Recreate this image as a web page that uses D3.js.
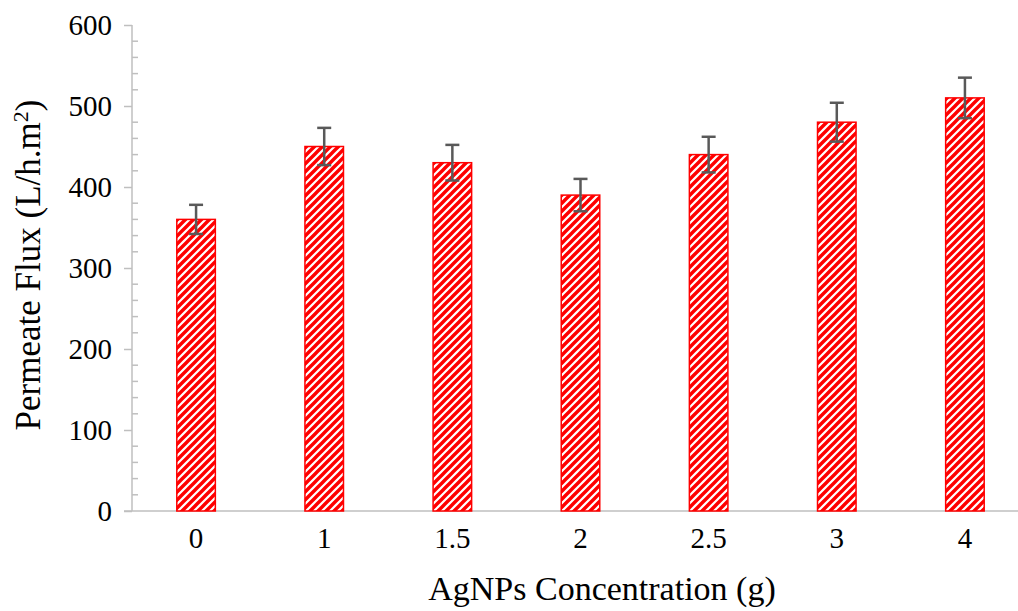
<!DOCTYPE html>
<html>
<head>
<meta charset="utf-8">
<script src="https://cdn.jsdelivr.net/npm/d3@7"></script>
<style>
  body { margin: 0; background: #fff; }
  svg text { font-family: "Liberation Serif", "Times New Roman", serif; fill: #000; }
</style>
</head>
<body>
<div id="chart"></div>
<script>
// data
var categories = ["0", "1", "1.5", "2", "2.5", "3", "4"];
var flux = [360, 450, 430, 390, 440, 480, 510];
var fluxErr = [18, 23, 22, 20, 22, 24, 25];
var yTicks = [0, 100, 200, 300, 400, 500, 600];

var W = 1018, H = 611;
var margin = {top: 25, right: -11, bottom: 100, left: 132},
    width = W - margin.left - margin.right,
    height = H - margin.top - margin.bottom;

var svg = d3.select("#chart").append("svg")
    .attr("width", W)
    .attr("height", H);

// hatch pattern (wide upward diagonal)
var defs = svg.append("defs");
var pat = defs.append("pattern")
    .attr("id", "hatch")
    .attr("patternUnits", "userSpaceOnUse")
    .attr("width", 8)
    .attr("height", 8);
pat.append("rect").attr("width", 8).attr("height", 8).attr("fill", "#fff");
pat.append("path")
    .attr("d", "M-2,2 L2,-2 M0,8 L8,0 M6,10 L10,6")
    .attr("stroke", "#ff0000")
    .attr("stroke-width", 3.4);

var g = svg.append("g")
    .attr("transform", "translate(" + margin.left + "," + margin.top + ")");

var x = d3.scaleBand()
    .domain(categories)
    .range([0, width])
    .paddingInner(0.6875)
    .paddingOuter(0.34375);

var y = d3.scaleLinear()
    .domain([0, 600])
    .range([height, 0]);

// y axis: major ticks outside, minor ticks inside
var yAxis = g.append("g")
    .call(d3.axisLeft(y).tickValues(yTicks).tickSize(8).tickPadding(12));
yAxis.select(".domain").attr("stroke", "#bfbfbf").attr("stroke-width", 1.5)
    .attr("d", "M0," + height + "V0");
yAxis.selectAll(".tick line").attr("stroke", "#bfbfbf").attr("stroke-width", 1.5);
yAxis.selectAll(".tick text").style("font-size", "29px");

var minor = d3.range(20, 600, 20).filter(function(v) { return v % 100 !== 0; });
g.append("g").selectAll("line")
    .data(minor)
    .join("line")
    .attr("x1", 0).attr("x2", 6)
    .attr("y1", function(d) { return y(d); })
    .attr("y2", function(d) { return y(d); })
    .attr("stroke", "#bfbfbf")
    .attr("stroke-width", 1.5);

// x axis
var xAxis = g.append("g")
    .attr("transform", "translate(0," + height + ")")
    .call(d3.axisBottom(x).tickSize(0).tickPadding(16));
xAxis.select(".domain").attr("stroke", "#bfbfbf").attr("stroke-width", 1.5)
    .attr("d", "M-8,0H" + width);
xAxis.selectAll(".tick text").style("font-size", "29px");

// bars
g.append("g").selectAll("rect")
    .data(flux)
    .join("rect")
    .attr("x", function(d, i) { return x(categories[i]) + 0.75; })
    .attr("y", function(d) { return y(d); })
    .attr("width", x.bandwidth() - 1.5)
    .attr("height", function(d) { return height - y(d); })
    .attr("fill", "url(#hatch)")
    .attr("stroke", "#ff0000")
    .attr("stroke-width", 1.5);

// error bars
var eb = g.append("g").attr("stroke", "#595959").attr("stroke-width", 2.5);
flux.forEach(function(v, i) {
    var cx = x(categories[i]) + x.bandwidth() / 2;
    var e = fluxErr[i];
    eb.append("line").attr("x1", cx).attr("x2", cx).attr("y1", y(v + e)).attr("y2", y(v - e));
    eb.append("line").attr("x1", cx - 7).attr("x2", cx + 7).attr("y1", y(v + e)).attr("y2", y(v + e));
    eb.append("line").attr("x1", cx - 7).attr("x2", cx + 7).attr("y1", y(v - e)).attr("y2", y(v - e));
});

// axis titles
svg.append("text")
    .attr("transform", "translate(40," + (margin.top + height / 2 - 3) + ") rotate(-90)")
    .attr("text-anchor", "middle")
    .style("font-size", "35px")
    .html('Permeate Flux (L/h.m<tspan dy="-12" style="font-size:22px">2</tspan><tspan dy="12">)</tspan>');

svg.append("text")
    .attr("x", 602)
    .attr("y", 600)
    .attr("text-anchor", "middle")
    .style("font-size", "34px")
    .text("AgNPs Concentration (g)");
</script>
</body>
</html>
